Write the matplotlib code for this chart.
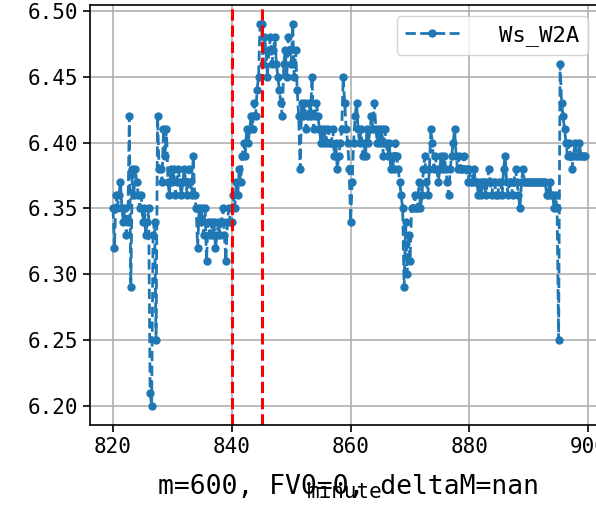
import numpy as np
import matplotlib
matplotlib.use("Agg")
import matplotlib.pyplot as plt

plt.rcParams['font.family'] = ['DejaVu Sans Mono', 'Noto Sans CJK SC']

# Ws_W2A readings, 4 samples per minute starting at minute 820 (one row per minute)
ws_w2a = [
    6.35, 6.32, 6.36, 6.35,  # 820
    6.36, 6.37, 6.35, 6.34,
    6.35, 6.33, 6.34, 6.42,
    6.29, 6.38, 6.36, 6.38,
    6.37, 6.36, 6.35, 6.36,
    6.34, 6.35, 6.33, 6.34,  # 825
    6.35, 6.21, 6.20, 6.33,
    6.34, 6.25, 6.42, 6.38,
    6.38, 6.37, 6.41, 6.39,
    6.41, 6.37, 6.36, 6.38,
    6.37, 6.38, 6.36, 6.37,  # 830
    6.38, 6.37, 6.36, 6.37,
    6.38, 6.37, 6.36, 6.38,
    6.37, 6.36, 6.39, 6.36,
    6.35, 6.32, 6.35, 6.34,
    6.35, 6.33, 6.35, 6.31,  # 835
    6.34, 6.33, 6.34, 6.33,
    6.34, 6.32, 6.33, 6.34,
    6.33, 6.34, 6.35, 6.33,
    6.31, 6.34, 6.35, 6.34,
    6.34, 6.36, 6.35, 6.37,  # 840
    6.36, 6.38, 6.37, 6.39,
    6.40, 6.39, 6.41, 6.40,
    6.41, 6.42, 6.41, 6.43,
    6.42, 6.44, 6.45, 6.49,
    6.49, 6.46, 6.48, 6.47,  # 845
    6.45, 6.47, 6.48, 6.46,
    6.47, 6.48, 6.46, 6.45,
    6.44, 6.43, 6.42, 6.46,
    6.47, 6.45, 6.48, 6.47,
    6.46, 6.49, 6.45, 6.47,  # 850
    6.44, 6.42, 6.38, 6.43,
    6.42, 6.43, 6.41, 6.42,
    6.43, 6.42, 6.45, 6.41,
    6.42, 6.43, 6.42, 6.41,
    6.40, 6.41, 6.40, 6.41,  # 855
    6.40, 6.41, 6.40, 6.40,
    6.41, 6.39, 6.40, 6.38,
    6.39, 6.40, 6.41, 6.45,
    6.43, 6.41, 6.40, 6.38,
    6.34, 6.37, 6.40, 6.42,  # 860
    6.43, 6.41, 6.40, 6.41,
    6.39, 6.40, 6.39, 6.41,
    6.40, 6.41, 6.42, 6.41,
    6.43, 6.41, 6.40, 6.41,
    6.40, 6.41, 6.39, 6.41,  # 865
    6.40, 6.39, 6.40, 6.38,
    6.39, 6.38, 6.40, 6.39,
    6.38, 6.37, 6.36, 6.35,
    6.29, 6.34, 6.30, 6.33,
    6.31, 6.35, 6.35, 6.36,  # 870
    6.35, 6.35, 6.37, 6.35,
    6.36, 6.38, 6.39, 6.37,
    6.36, 6.38, 6.41, 6.40,
    6.38, 6.39, 6.38, 6.37,
    6.38, 6.39, 6.38, 6.39,  # 875
    6.38, 6.37, 6.36, 6.38,
    6.39, 6.40, 6.41, 6.39,
    6.38, 6.39, 6.38, 6.38,
    6.39, 6.38, 6.38, 6.37,
    6.38, 6.37, 6.37, 6.38,  # 880
    6.37, 6.37, 6.36, 6.37,
    6.36, 6.37, 6.37, 6.36,
    6.37, 6.38, 6.37, 6.36,
    6.37, 6.37, 6.36, 6.36,
    6.37, 6.37, 6.36, 6.38,  # 885
    6.39, 6.37, 6.36, 6.37,
    6.37, 6.36, 6.37, 6.38,
    6.37, 6.36, 6.35, 6.37,
    6.38, 6.37, 6.37, 6.37,
    6.37, 6.37, 6.37, 6.37,  # 890
    6.37, 6.37, 6.37, 6.37,
    6.37, 6.37, 6.37, 6.37,
    6.36, 6.36, 6.37, 6.36,
    6.36, 6.35, 6.36, 6.35,
    6.25, 6.46, 6.43, 6.42,  # 895
    6.41, 6.40, 6.39, 6.40,
    6.39, 6.38, 6.39, 6.40,
    6.39, 6.39, 6.40, 6.39,
    6.39, 6.39, 6.39,
]
start_minute = 820
samples_per_minute = 4
minutes = start_minute + np.arange(len(ws_w2a)) / samples_per_minute

marks = [840, 845]
info_text = "m=600, FV0=0, deltaM=nan"

fig = plt.figure(figsize=(5.96, 5.05), dpi=100)
ax = fig.add_axes([90 / 596, 80 / 505, 509 / 596, 420 / 505])

ax.plot(minutes, ws_w2a, linestyle='--', marker='o', markersize=5, linewidth=2,
        color='#1f77b4', label='Ws_W2A')
for m in marks:
    ax.axvline(m, color='red', linestyle='--', linewidth=2.2)

ax.set_xlim(816.13, 901.8)
ax.grid(True, color='#b0b0b0', linewidth=1.2)
ax.tick_params(labelsize=15, length=5, width=1.2)
for s in ax.spines.values():
    s.set_linewidth(1.2)

ax.set_xlabel('minute', fontsize=15, labelpad=18)
ax.legend(loc='upper right', fontsize=16, handlelength=2.4, handletextpad=1.8)
fig.text(348 / 596, 1 - 487 / 505, info_text, fontsize=19, ha='center', va='center')

fig.savefig('out.png', dpi=100)
